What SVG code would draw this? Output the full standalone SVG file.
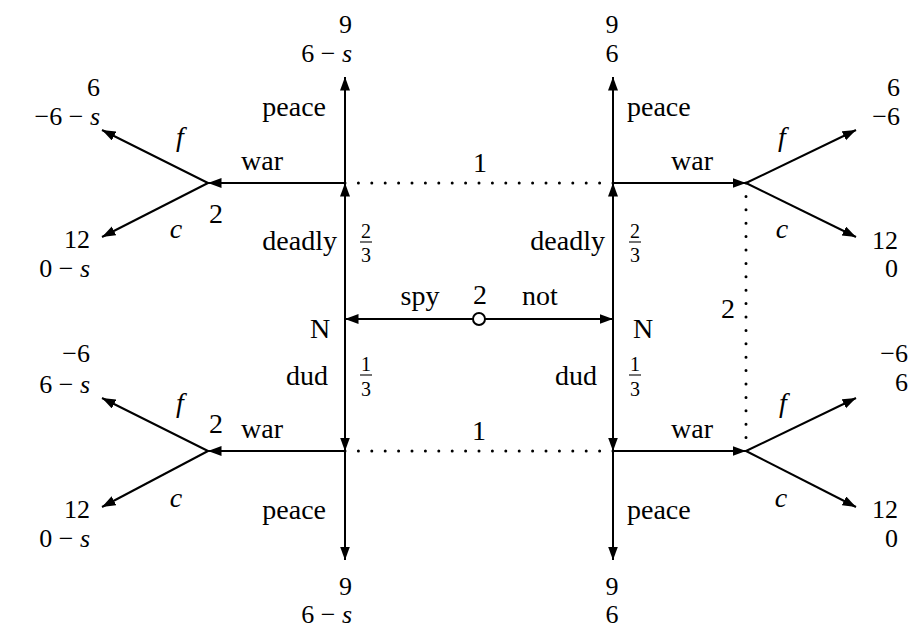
<svg xmlns="http://www.w3.org/2000/svg" width="910" height="629" viewBox="0 0 910 629">
<style>
text{font-family:"Liberation Serif","DejaVu Serif","Times New Roman",serif;font-size:28px;fill:#000}
.i{font-style:italic}
.fr{font-size:20px;text-anchor:middle}
.e{text-anchor:end}
.m{text-anchor:middle}
.pay{font-size:26px}
.edge{stroke:#000;stroke-width:2;fill:none;marker-end:url(#ah)}
.dot{stroke:#000;stroke-width:3;fill:none;stroke-linecap:round;stroke-dasharray:0 13.4}
.bar{stroke:#000;stroke-width:1.1}
</style>
<defs>
<marker id="ah" markerUnits="userSpaceOnUse" markerWidth="14" markerHeight="11" refX="13.5" refY="5" orient="auto">
<path d="M0,0 L13.5,5 L0,10 z" fill="#000"/>
</marker>
</defs>
<rect width="910" height="629" fill="#fff"/>
<g id="connectors">
<line class="edge" x1="473" y1="319" x2="345" y2="319"/>
<line class="edge" x1="485" y1="319" x2="613" y2="319"/>
<line class="edge" x1="345" y1="319" x2="345" y2="183"/>
<line class="edge" x1="345" y1="319" x2="345" y2="451"/>
<line class="edge" x1="613" y1="319" x2="613" y2="183"/>
<line class="edge" x1="613" y1="319" x2="613" y2="451"/>
<line class="edge" x1="345" y1="183" x2="345" y2="77"/>
<line class="edge" x1="345" y1="183" x2="208" y2="183"/>
<line class="edge" x1="208" y1="183" x2="102" y2="130"/>
<line class="edge" x1="208" y1="183" x2="102" y2="237"/>
<line class="edge" x1="345" y1="451" x2="345" y2="560"/>
<line class="edge" x1="345" y1="451" x2="208" y2="451"/>
<line class="edge" x1="208" y1="451" x2="102" y2="398"/>
<line class="edge" x1="208" y1="451" x2="102" y2="507"/>
<line class="edge" x1="613" y1="183" x2="613" y2="77"/>
<line class="edge" x1="613" y1="183" x2="746" y2="183"/>
<line class="edge" x1="746" y1="183" x2="856" y2="130"/>
<line class="edge" x1="746" y1="183" x2="856" y2="237"/>
<line class="edge" x1="613" y1="451" x2="613" y2="560"/>
<line class="edge" x1="613" y1="451" x2="746" y2="451"/>
<line class="edge" x1="746" y1="451" x2="856" y2="398"/>
<line class="edge" x1="746" y1="451" x2="856" y2="507"/>
<line class="dot" x1="345" y1="183" x2="613" y2="183"/>
<line class="dot" x1="345" y1="451" x2="613" y2="451"/>
<line class="dot" x1="746" y1="183" x2="746" y2="451"/>
</g>
<g id="edge-labels">
<text x="420" y="305" class="m">spy</text>
<text x="540" y="305" class="m">not</text>
<text x="337" y="250" class="e">deadly</text>
<text x="366" y="238" class="fr">2</text><line class="bar" x1="360" y1="242" x2="372" y2="242"/><text x="366" y="262" class="fr">3</text>
<text x="328" y="385" class="e">dud</text>
<text x="366" y="371" class="fr">1</text><line class="bar" x1="360" y1="375" x2="372" y2="375"/><text x="366" y="396" class="fr">3</text>
<text x="605" y="250" class="e">deadly</text>
<text x="635" y="238" class="fr">2</text><line class="bar" x1="629" y1="242" x2="641" y2="242"/><text x="635" y="262" class="fr">3</text>
<text x="597" y="385" class="e">dud</text>
<text x="635" y="371" class="fr">1</text><line class="bar" x1="629" y1="375" x2="641" y2="375"/><text x="635" y="396" class="fr">3</text>
<text x="326" y="116" class="e">peace</text>
<text x="262" y="170" class="m">war</text>
<text x="326" y="519" class="e">peace</text>
<text x="262" y="438" class="m">war</text>
<text x="627" y="116">peace</text>
<text x="692" y="170" class="m">war</text>
<text x="627" y="519">peace</text>
<text x="692" y="438" class="m">war</text>
<text x="180" y="146" class="m i">f</text>
<text x="176" y="238" class="m i">c</text>
<text x="180" y="412" class="m i">f</text>
<text x="176" y="507" class="m i">c</text>
<text x="782" y="146" class="m i">f</text>
<text x="782" y="238" class="m i">c</text>
<text x="783" y="412" class="m i">f</text>
<text x="781" y="507" class="m i">c</text>
</g>
<g id="node-root">
<circle cx="479" cy="319" r="6" fill="#fff" stroke="#000" stroke-width="2"/>
<text x="480" y="304" class="m">2</text>
</g>
<g id="node-nature-left"><text x="320" y="338" class="m">N</text></g>
<g id="node-nature-right"><text x="643" y="338" class="m">N</text></g>
<g id="node-p1-top"><text x="480" y="172" class="m">1</text></g>
<g id="node-p1-bottom"><text x="479" y="440" class="m">1</text></g>
<g id="node-p2-topleft"><text x="216" y="223" class="m">2</text></g>
<g id="node-p2-bottomleft"><text x="216" y="433" class="m">2</text></g>
<g id="node-p2-right"><text x="728" y="318" class="m">2</text></g>
<g id="leaf-tl-peace"><text x="352" y="33" class="e pay">9</text><text x="352" y="62" class="e pay">6 − <tspan class="i">s</tspan></text></g>
<g id="leaf-bl-peace"><text x="352" y="595" class="e pay">9</text><text x="352" y="623" class="e pay">6 − <tspan class="i">s</tspan></text></g>
<g id="leaf-tr-peace"><text x="612" y="33" class="m pay">9</text><text x="612" y="62" class="m pay">6</text></g>
<g id="leaf-br-peace"><text x="612" y="595" class="m pay">9</text><text x="612" y="623" class="m pay">6</text></g>
<g id="leaf-tl-f"><text x="100" y="96" class="e pay">6</text><text x="100" y="125" class="e pay">−6 − <tspan class="i">s</tspan></text></g>
<g id="leaf-tl-c"><text x="90" y="248" class="e pay">12</text><text x="90" y="277" class="e pay">0 − <tspan class="i">s</tspan></text></g>
<g id="leaf-bl-f"><text x="90" y="362" class="e pay">−6</text><text x="90" y="393" class="e pay">6 − <tspan class="i">s</tspan></text></g>
<g id="leaf-bl-c"><text x="90" y="518" class="e pay">12</text><text x="90" y="547" class="e pay">0 − <tspan class="i">s</tspan></text></g>
<g id="leaf-tr-f"><text x="900" y="96" class="e pay">6</text><text x="900" y="125" class="e pay">−6</text></g>
<g id="leaf-tr-c"><text x="898" y="249" class="e pay">12</text><text x="898" y="277" class="e pay">0</text></g>
<g id="leaf-br-f"><text x="908" y="362" class="e pay">−6</text><text x="908" y="391" class="e pay">6</text></g>
<g id="leaf-br-c"><text x="898" y="518" class="e pay">12</text><text x="898" y="547" class="e pay">0</text></g>
</svg>
